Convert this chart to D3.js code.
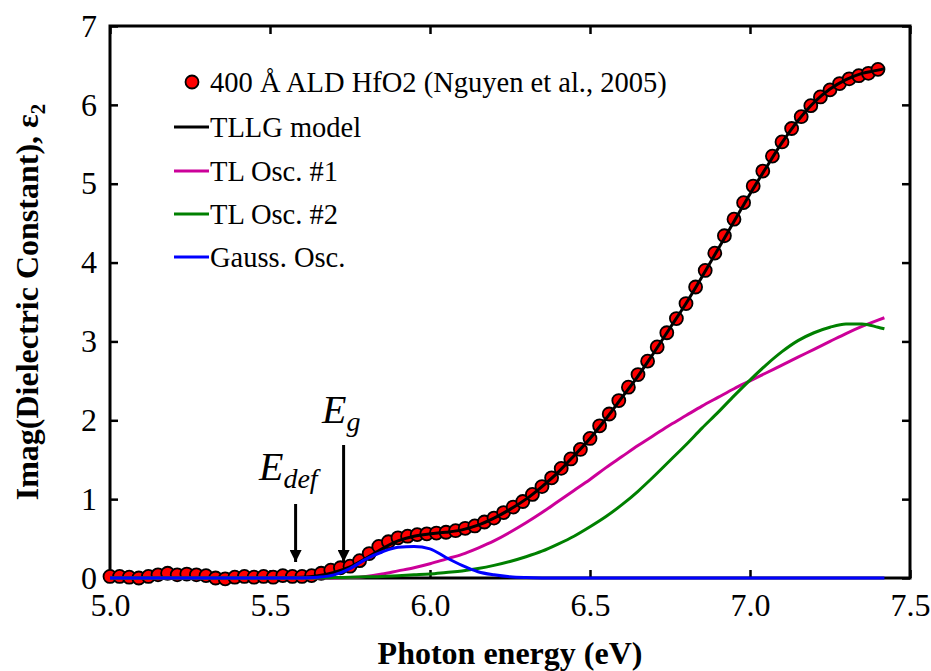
<!DOCTYPE html>
<html>
<head>
<meta charset="utf-8">
<script src="https://cdn.jsdelivr.net/npm/d3@7"></script>
<style>
  body { margin: 0; background: #fff; }
  svg { font-family: "Liberation Serif", "Times New Roman", serif; }
</style>
</head>
<body>
<div id="chart"></div>
<script>
// measured points (Nguyen et al., 2005)
var dataE = [5.00, 5.03, 5.06, 5.09, 5.12, 5.15, 5.18, 5.21, 5.24, 5.27, 5.30, 5.33, 5.36, 5.39, 5.42, 5.45,
  5.48, 5.51, 5.54, 5.57, 5.60, 5.63, 5.66, 5.69, 5.72, 5.75, 5.78, 5.81, 5.84, 5.87, 5.90, 5.93, 5.96, 5.99,
  6.02, 6.05, 6.08, 6.11, 6.14, 6.17, 6.20, 6.23, 6.26, 6.29, 6.32, 6.35, 6.38, 6.41, 6.44, 6.47, 6.50, 6.53,
  6.56, 6.59, 6.62, 6.65, 6.68, 6.71, 6.74, 6.77, 6.80, 6.83, 6.86, 6.89, 6.92, 6.95, 6.98, 7.01, 7.04, 7.07,
  7.10, 7.13, 7.16, 7.19, 7.22, 7.25, 7.28, 7.31, 7.34, 7.37, 7.40];
var dataEps2 = [0.02, 0.02, 0.01, 0.00, 0.02, 0.04, 0.06, 0.04, 0.05, 0.04, 0.03, 0.00, -0.01, 0.01, 0.02, 0.01,
  0.02, 0.01, 0.03, 0.02, 0.02, 0.03, 0.06, 0.10, 0.13, 0.15, 0.22, 0.31, 0.40, 0.46, 0.51, 0.53, 0.55, 0.56,
  0.57, 0.58, 0.60, 0.63, 0.66, 0.71, 0.76, 0.83, 0.90, 0.97, 1.06, 1.16, 1.27, 1.39, 1.51, 1.63, 1.77, 1.93,
  2.08, 2.25, 2.42, 2.58, 2.75, 2.93, 3.11, 3.29, 3.48, 3.69, 3.90, 4.12, 4.34, 4.55, 4.76, 4.97, 5.16, 5.35,
  5.53, 5.70, 5.85, 5.99, 6.10, 6.19, 6.27, 6.33, 6.37, 6.40, 6.45];

// model curves, sampled on one energy grid
var gridE = [5.0, 5.5, 5.6, 5.65, 5.7, 5.75, 5.8, 5.85, 5.9, 5.95, 6.0, 6.05, 6.1, 6.15, 6.2, 6.25, 6.3, 6.35,
  6.4, 6.45, 6.5, 6.55, 6.6, 6.65, 6.7, 6.75, 6.8, 6.85, 6.9, 6.95, 7.0, 7.05, 7.1, 7.15, 7.2, 7.25, 7.3, 7.35,
  7.4, 7.42];
var tllgModel = [0, 0, 0.01, 0.03, 0.07, 0.14, 0.25, 0.37, 0.47, 0.53, 0.56, 0.58, 0.61, 0.67, 0.76, 0.87, 1.0,
  1.16, 1.34, 1.55, 1.77, 2.02, 2.29, 2.56, 2.86, 3.17, 3.48, 3.82, 4.17, 4.52, 4.87, 5.2, 5.52, 5.8, 6.03,
  6.2, 6.32, 6.4, 6.44, 6.46];
var tlOsc1 = [0, 0, 0, 0, 0, 0.005, 0.02, 0.05, 0.09, 0.13, 0.18, 0.24, 0.30, 0.38, 0.47, 0.58, 0.70, 0.83,
  0.97, 1.11, 1.25, 1.40, 1.54, 1.68, 1.81, 1.94, 2.06, 2.18, 2.29, 2.40, 2.50, 2.60, 2.70, 2.80, 2.90, 3.00,
  3.10, 3.19, 3.27, 3.30];
var tlOsc2 = [0, 0, 0, 0.002, 0.005, 0.01, 0.015, 0.02, 0.03, 0.04, 0.05, 0.07, 0.09, 0.12, 0.16, 0.21, 0.27,
  0.34, 0.43, 0.53, 0.65, 0.78, 0.93, 1.10, 1.29, 1.49, 1.69, 1.90, 2.10, 2.31, 2.51, 2.70, 2.87, 3.01, 3.11,
  3.18, 3.22, 3.22, 3.18, 3.16];
var gaussOsc = [0, 0, 0, 0.01, 0.04, 0.12, 0.24, 0.33, 0.39, 0.40, 0.37, 0.26, 0.16, 0.08, 0.04, 0.015, 0.005,
  0.001, 0, 0, 0, 0, 0, 0, 0, 0, 0, 0, 0, 0, 0, 0, 0, 0, 0, 0, 0, 0, 0, 0];

var xTicks = [5.0, 5.5, 6.0, 6.5, 7.0, 7.5];
var yTicks = [0, 1, 2, 3, 4, 5, 6, 7];

var legendLabels = ["400 Å ALD HfO2 (Nguyen et al., 2005)", "TLLG model", "TL Osc. #1", "TL Osc. #2", "Gauss. Osc."];
var lineColors = ["#000000", "#cc0099", "#008000", "#0000ff"];

var width = 931, height = 671;
// note: "top" is taken by window.top, so plot edges get a prefix
var plotL = 110, plotR = 910, plotT = 26, plotB = 578;

var x = d3.scaleLinear().domain([5.0, 7.5]).range([plotL, plotR]);
var y = d3.scaleLinear().domain([0, 7]).range([plotB, plotT]);

var svg = d3.select("#chart").append("svg")
  .attr("width", width)
  .attr("height", height);

function styleTicks(g) {
  g.select(".domain").remove();
  g.selectAll("line").attr("stroke", "#000").attr("stroke-width", 2.5);
  g.selectAll("text").attr("font-size", 32).attr("fill", "#000").attr("font-family", "Liberation Serif");
}

// axes with inward ticks, mirrored on top/right
svg.append("g")
  .attr("transform", "translate(0," + plotB + ")")
  .call(d3.axisBottom(x).tickValues(xTicks).tickFormat(d3.format(".1f")).tickSizeInner(-8).tickSizeOuter(0).tickPadding(15))
  .call(styleTicks);
svg.append("g")
  .attr("transform", "translate(0," + plotT + ")")
  .call(d3.axisTop(x).tickValues(xTicks).tickFormat("").tickSizeInner(-8).tickSizeOuter(0))
  .call(styleTicks);
svg.append("g")
  .attr("transform", "translate(" + plotL + ",0)")
  .call(d3.axisLeft(y).tickValues(yTicks).tickFormat(d3.format("d")).tickSizeInner(-8).tickSizeOuter(0).tickPadding(13))
  .call(styleTicks);
svg.append("g")
  .attr("transform", "translate(" + plotR + ",0)")
  .call(d3.axisRight(y).tickValues(yTicks).tickFormat("").tickSizeInner(-8).tickSizeOuter(0))
  .call(styleTicks);

svg.append("rect")
  .attr("x", plotL).attr("y", plotT)
  .attr("width", plotR - plotL).attr("height", plotB - plotT)
  .attr("fill", "none").attr("stroke", "#000").attr("stroke-width", 3);

// data points
svg.append("g").selectAll("circle")
  .data(dataE)
  .enter().append("circle")
  .attr("cx", function(d) { return x(d); })
  .attr("cy", function(d, i) { return y(dataEps2[i]); })
  .attr("r", 6.5)
  .attr("fill", "#ff0000")
  .attr("stroke", "#000")
  .attr("stroke-width", 1.8);

// model lines on top of points
var line = d3.line()
  .x(function(d) { return x(d[0]); })
  .y(function(d) { return y(d[1]); })
  .curve(d3.curveMonotoneX);

[tllgModel, tlOsc1, tlOsc2, gaussOsc].forEach(function(vals, k) {
  svg.append("path")
    .datum(gridE.map(function(e, i) { return [e, vals[i]]; }))
    .attr("d", line)
    .attr("fill", "none")
    .attr("stroke", lineColors[k])
    .attr("stroke-width", 3);
});

// legend
var legendRows = [82, 127, 171, 214, 257];
var legend = svg.append("g");
legend.append("circle")
  .attr("cx", 192).attr("cy", legendRows[0]).attr("r", 6.5)
  .attr("fill", "#ff0000").attr("stroke", "#000").attr("stroke-width", 1.8);
lineColors.forEach(function(c, k) {
  legend.append("line")
    .attr("x1", 174).attr("x2", 209)
    .attr("y1", legendRows[k + 1]).attr("y2", legendRows[k + 1])
    .attr("stroke", c).attr("stroke-width", 3);
});
legendLabels.forEach(function(t, k) {
  legend.append("text")
    .attr("x", 210)
    .attr("y", legendRows[k])
    .attr("dy", "0.35em")
    .attr("font-size", 28.5)
    .text(t);
});

// axis titles
var yTitle = svg.append("text")
  .attr("transform", "translate(38," + ((plotT + plotB) / 2) + ") rotate(-90)")
  .attr("text-anchor", "middle")
  .attr("font-size", 32)
  .attr("font-weight", "bold");
yTitle.append("tspan").text("Imag(Dielectric Constant), ε");
yTitle.append("tspan").attr("font-size", 21).attr("dy", 7).text("2");

svg.append("text")
  .attr("x", (plotL + plotR) / 2)
  .attr("y", 664)
  .attr("text-anchor", "middle")
  .attr("font-size", 32)
  .attr("font-weight", "bold")
  .text("Photon energy (eV)");

// annotations: E_def and E_g with arrows
var arrows = [
  { label: "E", sub: "def", e: 5.58, tx: 259, ty: 480, y0: 504 },
  { label: "E", sub: "g", e: 5.73, tx: 322, ty: 423, y0: 445 }
];
svg.append("defs").append("marker")
  .attr("id", "head")
  .attr("viewBox", "0 0 10 10")
  .attr("refX", 10).attr("refY", 5)
  .attr("markerWidth", 4).attr("markerHeight", 4)
  .attr("orient", "auto")
  .append("path").attr("d", "M0,0 L10,5 L0,10 Z").attr("fill", "#000");

arrows.forEach(function(a) {
  svg.append("line")
    .attr("x1", x(a.e)).attr("x2", x(a.e))
    .attr("y1", a.y0).attr("y2", 562)
    .attr("stroke", "#000").attr("stroke-width", 3)
    .attr("marker-end", "url(#head)");
  var t = svg.append("text")
    .attr("x", a.tx).attr("y", a.ty)
    .attr("font-size", 40)
    .attr("font-style", "italic");
  t.append("tspan").text(a.label);
  t.append("tspan").attr("font-size", 28).attr("dy", 8).text(a.sub);
});
</script>
</body>
</html>
